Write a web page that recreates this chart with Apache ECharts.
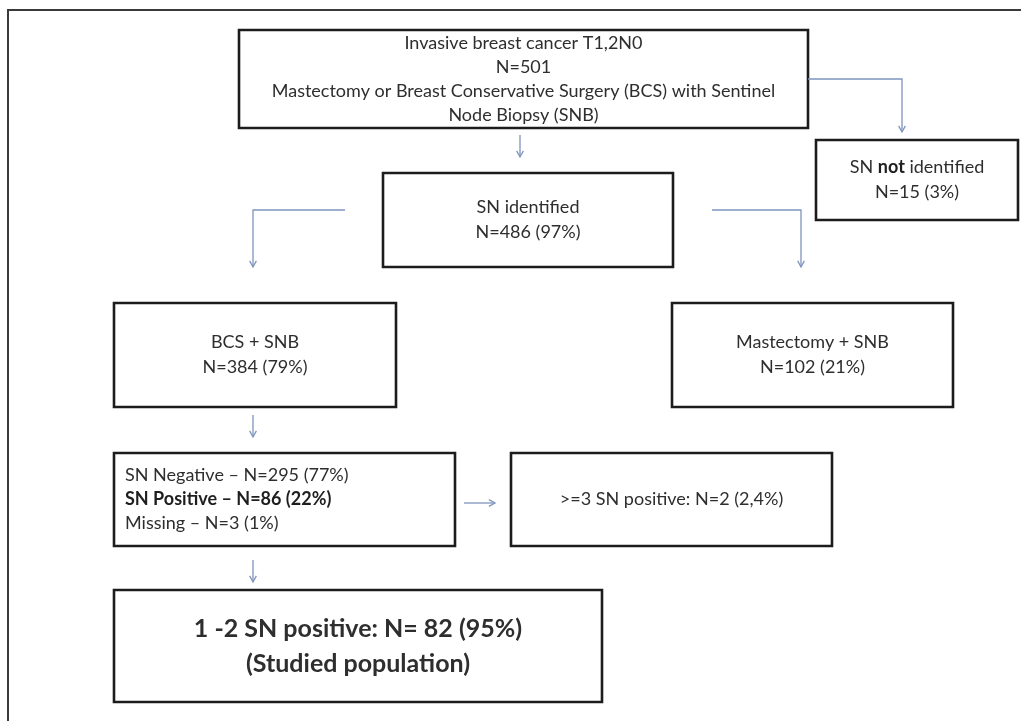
<!DOCTYPE html>
<html><head><meta charset="utf-8">
<script src="https://cdn.jsdelivr.net/npm/echarts@6/dist/echarts.min.js"></script>
<style>html,body{margin:0;padding:0;background:#fff}#c{width:1021px;height:721px}</style>
</head><body><div id="c"></div>
<script>
// ---- content ----
const boxLines = [
  ['Invasive breast cancer T1,2N0', 'N=501', 'Mastectomy or Breast Conservative Surgery (BCS) with Sentinel', 'Node Biopsy (SNB)'],
  ['SN {b|not} identified', 'N=15 (3%)'],
  ['SN identified', 'N=486 (97%)'],
  ['BCS + SNB', 'N=384 (79%)'],
  ['Mastectomy + SNB', 'N=102 (21%)'],
  ['SN Negative \u2013 N=295 (77%)', '{b|SN Positive \u2013 N=86 (22%)}', 'Missing \u2013 N=3 (1%)'],
  ['>=3 SN positive: N=2 (2,4%)'],
  ['1 -2 SN positive: N= 82 (95%)', '(Studied population)']
];
// box corners [x0, y0, x1, y1] in diagram units
const boxRects = [
  [239, 30, 808, 128],
  [816, 140, 1018, 220],
  [383, 173, 673, 267],
  [114, 303, 396, 407],
  [672, 303, 953, 407],
  [114, 453, 455, 546],
  [511, 453, 832, 546],
  [114, 590, 602, 702]
];
// connectors (polyline points, last point = arrow tip)
const arrowPaths = [
  [[808, 79], [902, 79], [902, 132]],
  [[520, 135], [520, 157]],
  [[345, 210], [253, 210], [253, 267]],
  [[712, 210], [801, 210], [801, 267]],
  [[253, 415], [253, 437]],
  [[464, 503], [495, 503]],
  [[253, 560], [253, 582]]
];
const framePath = [[8, 721], [8, 10], [1021, 10]];

// ---- styles ----
const boxStyle = [
  {size: 18, lh: 24, align: 'center', bold: false},
  {size: 18, lh: 25, align: 'center', bold: false},
  {size: 18, lh: 25, align: 'center', bold: false},
  {size: 18, lh: 25, align: 'center', bold: false},
  {size: 18, lh: 25, align: 'center', bold: false},
  {size: 18, lh: 24, align: 'left', bold: false},
  {size: 18, lh: 24, align: 'center', bold: false},
  {size: 25, lh: 35, align: 'center', bold: true}
];
const FONT = 'Lato, "Open Sans", sans-serif';
const TXT = '#2e2e2e';
const ARROW = '#7f94bd';

const chart = echarts.init(document.getElementById('c'));
chart.setOption({
  animation: false,
  grid: {left: 0, right: 0, top: 0, bottom: 0},
  xAxis: {type: 'value', min: 0, max: 1021, show: false},
  yAxis: {type: 'value', min: 0, max: 721, inverse: true, show: false},
  series: [
    {
      type: 'custom',
      coordinateSystem: 'cartesian2d',
      data: [[0]],
      renderItem: function (params, api) {
        const pts = framePath.map(p => api.coord(p));
        return {type: 'polyline', shape: {points: pts}, style: {stroke: '#3a3a3a', lineWidth: 2, fill: null}};
      }
    },
    {
      type: 'custom',
      coordinateSystem: 'cartesian2d',
      data: boxRects,
      renderItem: function (params, api) {
        const i = params.dataIndex;
        const p0 = api.coord([api.value(0), api.value(1)]);
        const p1 = api.coord([api.value(2), api.value(3)]);
        const st = boxStyle[i];
        const w = p1[0] - p0[0], h = p1[1] - p0[1];
        const weight = st.bold ? 'bold' : 'normal';
        const text = boxLines[i].map(l => l.indexOf('{') === 0 ? l : (l.indexOf('{b|') >= 0 ? l.replace(/^([^{]*)\{b\|([^}]*)\}(.*)$/, '{n|$1}{b|$2}{n|$3}') : '{n|' + l + '}')).join('\n');
        const tx = st.align === 'left' ? p0[0] + 11 : p0[0] + w / 2;
        return {
          type: 'group',
          children: [
            {type: 'rect', shape: {x: p0[0], y: p0[1], width: w, height: h},
             style: {fill: '#fff', stroke: '#1c1c1c', lineWidth: 2.6}},
            {type: 'text', x: tx, y: p0[1] + h / 2,
             style: {
               text: text, align: st.align, verticalAlign: 'middle',
               fontFamily: FONT, fontSize: st.size, fontWeight: weight, fill: TXT, lineHeight: st.lh,
               rich: {
                 n: {fontFamily: FONT, fontSize: st.size, fontWeight: weight, fill: TXT, lineHeight: st.lh},
                 b: {fontFamily: FONT, fontSize: st.size, fontWeight: 'bold', fill: '#1e1e1e', lineHeight: st.lh}
               }
             }}
          ]
        };
      }
    },
    {
      type: 'custom',
      coordinateSystem: 'cartesian2d',
      data: arrowPaths.map((p, i) => [i]),
      renderItem: function (params, api) {
        const pts = arrowPaths[params.dataIndex].map(p => api.coord(p));
        const a = pts[pts.length - 2], b = pts[pts.length - 1];
        const ang = Math.atan2(b[1] - a[1], b[0] - a[0]);
        const L = 7, sp = 0.5;
        const h1 = [b[0] - L * Math.cos(ang - sp), b[1] - L * Math.sin(ang - sp)];
        const h2 = [b[0] - L * Math.cos(ang + sp), b[1] - L * Math.sin(ang + sp)];
        return {
          type: 'group',
          children: [
            {type: 'polyline', shape: {points: pts}, style: {stroke: ARROW, lineWidth: 1.3, fill: null}},
            {type: 'polyline', shape: {points: [h1, b, h2]}, style: {stroke: ARROW, lineWidth: 1.3, fill: null}}
          ]
        };
      }
    }
  ]
});
</script>
</body></html>
